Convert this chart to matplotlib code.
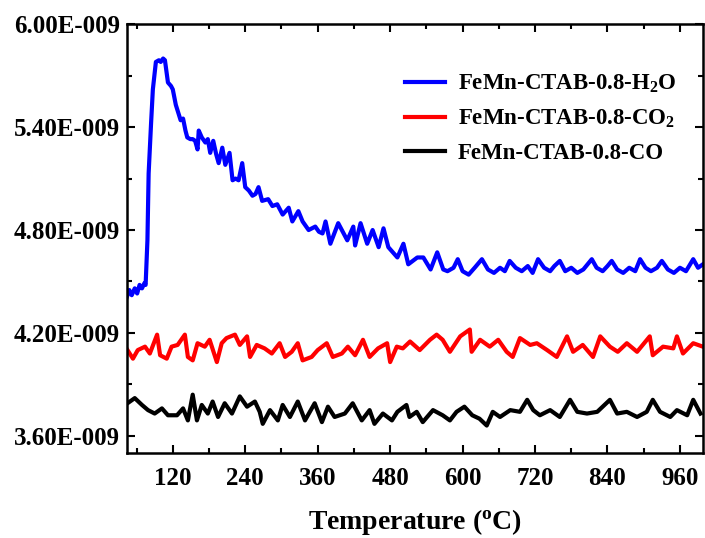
import numpy as np
import matplotlib.pyplot as plt
from matplotlib.ticker import FixedLocator, FuncFormatter

plt.rcParams['font.family'] = ['Liberation Serif', 'DejaVu Serif']
plt.rcParams['font.weight'] = 'bold'
plt.rcParams['mathtext.fontset'] = 'custom'
plt.rcParams['mathtext.rm'] = 'Liberation Serif:bold'
plt.rcParams['mathtext.it'] = 'Liberation Serif:bold'
plt.rcParams['mathtext.bf'] = 'Liberation Serif:bold'

# FeMn-CTAB-0.8-H2O  (signal in units of 1E-009)
h2o_T = [44, 48, 52, 57, 61, 65, 69, 73, 75, 78, 80, 84, 87, 92, 97, 100, 104, 107,
         112, 117, 120, 125, 133, 137, 141, 144, 149, 153, 157, 161, 163, 168, 174,
         178, 182, 187, 192, 196, 202, 207, 214, 219, 224, 229, 235, 240, 246, 252,
         257, 262, 268, 278, 285, 293, 302, 312, 318, 328, 335, 345, 356, 362, 368,
         373, 381, 394, 409, 419, 422, 431, 442, 451, 461, 469, 477, 492, 502, 510,
         525, 535, 547, 558, 568, 575, 585, 592, 600, 610, 620, 632, 642, 652, 662,
         670, 678, 688, 698, 708, 716, 725, 735, 745, 752, 761, 770, 780, 790, 800,
         814, 822, 832, 840, 847, 856, 866, 876, 886, 894, 903, 912, 922, 930, 940,
         950, 960, 970, 982, 990, 998]
h2o_sig = [4.41, 4.45, 4.42, 4.46, 4.43, 4.48, 4.46, 4.49, 4.48, 4.74, 5.13, 5.42, 5.62,
           5.78, 5.79, 5.78, 5.80, 5.79, 5.66, 5.64, 5.62, 5.53, 5.44, 5.45, 5.38, 5.34,
           5.33, 5.33, 5.32, 5.27, 5.38, 5.34, 5.31, 5.33, 5.25, 5.32, 5.24, 5.19, 5.28,
           5.18, 5.25, 5.09, 5.10, 5.09, 5.19, 5.05, 5.03, 5.00, 5.01, 5.05, 4.97, 4.98,
           4.94, 4.95, 4.89, 4.93, 4.85, 4.91, 4.85, 4.80, 4.82, 4.79, 4.78, 4.85, 4.72,
           4.84, 4.74, 4.82, 4.71, 4.84, 4.72, 4.80, 4.70, 4.81, 4.70, 4.64, 4.72, 4.60,
           4.64, 4.64, 4.57, 4.67, 4.57, 4.56, 4.58, 4.63, 4.56, 4.54, 4.58, 4.63, 4.57,
           4.55, 4.58, 4.56, 4.62, 4.58, 4.56, 4.59, 4.55, 4.63, 4.58, 4.56, 4.59, 4.62,
           4.56, 4.58, 4.55, 4.57, 4.63, 4.58, 4.56, 4.59, 4.62, 4.57, 4.55, 4.58, 4.56,
           4.63, 4.58, 4.56, 4.58, 4.62, 4.57, 4.55, 4.58, 4.56, 4.63, 4.58, 4.60]

# FeMn-CTAB-0.8-CO2
co2_T = [45, 54, 62, 74, 82, 94, 99, 110, 118, 128, 140, 145, 153, 161, 173, 181, 193,
         201, 209, 223, 231, 243, 248, 259, 272, 284, 297, 306, 317, 327, 335, 350, 360,
         375, 385, 400, 410, 422, 435, 446, 460, 475, 480, 491, 501, 513, 529, 546, 557,
         567, 579, 596, 612, 615, 629, 645, 659, 673, 683, 695, 712, 723, 740, 756, 773,
         783, 799, 816, 828, 844, 857, 872, 889, 910, 915, 932, 949, 955, 965, 982, 998]
co2_sig = [4.10, 4.05, 4.10, 4.12, 4.08, 4.19, 4.07, 4.05, 4.12, 4.13, 4.19, 4.06, 4.04,
           4.14, 4.12, 4.16, 4.03, 4.14, 4.17, 4.19, 4.13, 4.18, 4.06, 4.13, 4.11, 4.08,
           4.14, 4.06, 4.09, 4.14, 4.04, 4.06, 4.10, 4.14, 4.06, 4.08, 4.12, 4.07, 4.16,
           4.06, 4.11, 4.14, 4.03, 4.12, 4.11, 4.15, 4.10, 4.16, 4.19, 4.16, 4.09, 4.18,
           4.22, 4.09, 4.16, 4.12, 4.16, 4.09, 4.06, 4.17, 4.13, 4.14, 4.10, 4.06, 4.18,
           4.09, 4.13, 4.06, 4.18, 4.12, 4.09, 4.14, 4.09, 4.18, 4.07, 4.12, 4.11, 4.18,
           4.08, 4.14, 4.12]

# FeMn-CTAB-0.8-CO
co_T = [45, 57, 69, 79, 90, 102, 112, 127, 137, 145, 153, 160, 168, 178, 186, 195, 206,
        218, 231, 243, 256, 264, 269, 281, 294, 302, 314, 327, 339, 355, 367, 377, 388,
        405, 418, 433, 446, 454, 468, 483, 492, 507, 512, 524, 534, 551, 567, 579, 590,
        603, 616, 628, 640, 650, 662, 679, 695, 707, 717, 728, 745, 761, 778, 790, 806,
        823, 844, 856, 872, 889, 905, 915, 927, 944, 955, 972, 982, 994]
co_sig = [3.79, 3.82, 3.78, 3.75, 3.73, 3.76, 3.72, 3.72, 3.76, 3.69, 3.84, 3.69, 3.78,
          3.73, 3.80, 3.71, 3.79, 3.73, 3.83, 3.77, 3.80, 3.74, 3.67, 3.75, 3.69, 3.78,
          3.71, 3.80, 3.69, 3.79, 3.68, 3.77, 3.71, 3.73, 3.79, 3.69, 3.75, 3.67, 3.73,
          3.69, 3.74, 3.78, 3.71, 3.74, 3.68, 3.75, 3.72, 3.69, 3.74, 3.77, 3.72, 3.70,
          3.66, 3.74, 3.71, 3.75, 3.74, 3.81, 3.75, 3.72, 3.75, 3.71, 3.81, 3.74, 3.73,
          3.74, 3.81, 3.73, 3.74, 3.71, 3.74, 3.81, 3.74, 3.71, 3.75, 3.72, 3.81, 3.73]

labels = ['FeMn-CTAB-0.8-H$_2$O', 'FeMn-CTAB-0.8-CO$_2$', 'FeMn-CTAB-0.8-CO']

x_major = [120, 240, 360, 480, 600, 720, 840, 960]
x_minor = [60, 180, 300, 420, 540, 660, 780, 900]
y_major = [3.6, 4.2, 4.8, 5.4, 6.0]
y_minor = [3.9, 4.5, 5.1, 5.7]

fig = plt.figure(figsize=(7.05, 5.38), dpi=100)
ax = fig.add_axes([0.180, 0.158, 0.817, 0.797])

ax.plot(h2o_T, np.array(h2o_sig) * 1e-9, color='#0000ff', lw=3, label=labels[0])
ax.plot(co2_T, np.array(co2_sig) * 1e-9, color='#ff0000', lw=3, label=labels[1])
ax.plot(co_T, np.array(co_sig) * 1e-9, color='black', lw=3, label=labels[2])

ax.set_xlim(44, 998)
ax.set_ylim(3.5e-9, 6.0e-9)
ax.xaxis.set_major_locator(FixedLocator(x_major))
ax.xaxis.set_minor_locator(FixedLocator(x_minor))
ax.yaxis.set_major_locator(FixedLocator(np.array(y_major) * 1e-9))
ax.yaxis.set_minor_locator(FixedLocator(np.array(y_minor) * 1e-9))
ax.yaxis.set_major_formatter(FuncFormatter(lambda v, p: '%.2fE-009' % (v * 1e9)))

ax.tick_params(which='both', direction='in', top=True, right=True, width=1.5)
ax.tick_params(which='major', length=6)
ax.tick_params(which='minor', length=3.5)
ax.tick_params(axis='x', labelsize=18, pad=10)
ax.tick_params(axis='y', labelsize=18, pad=5)
for s in ax.spines.values():
    s.set_linewidth(1.8)

ax.set_xlabel('Temperature ($\\mathregular{^o}$C)', fontsize=20, fontweight='bold', labelpad=12)

ax.legend(loc='upper right', bbox_to_anchor=(0.99, 0.935), frameon=False, fontsize=16.5,
          handlelength=1.75, handletextpad=0.55, labelspacing=0.55)

plt.savefig('out.png', dpi=100)
